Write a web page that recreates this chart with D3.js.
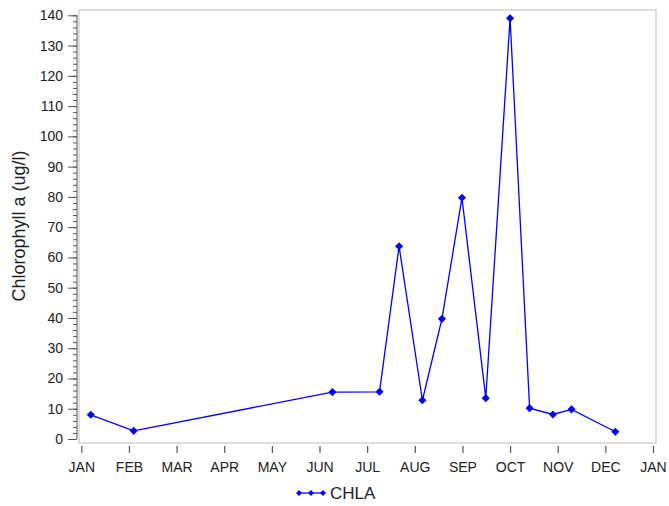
<!DOCTYPE html>
<html>
<head>
<meta charset="utf-8">
<script src="https://cdn.jsdelivr.net/npm/d3@7"></script>
<style>
  html, body { margin: 0; padding: 0; background: #fff; }
  svg { display: block; font-family: "Liberation Sans", Arial, sans-serif; }
</style>
</head>
<body>
<svg id="chart" width="669" height="506"></svg>
<script>
// Sampling dates as fractional months since January (0 = start of JAN)
const sampleMonth = [0.2, 1.1, 5.27, 6.26, 6.67, 7.16, 7.57, 7.99, 8.49, 9.0, 9.41, 9.9, 10.29, 11.21];
// Chlorophyll a concentration (ug/l)
const chla = [8.0, 2.7, 15.5, 15.6, 63.7, 12.8, 39.7, 79.7, 13.5, 139.0, 10.2, 8.1, 9.8, 2.4];
// Month tick labels
const monthLabels = ["JAN", "FEB", "MAR", "APR", "MAY", "JUN", "JUL", "AUG", "SEP", "OCT", "NOV", "DEC", "JAN"];
const yTicks = [0, 10, 20, 30, 40, 50, 60, 70, 80, 90, 100, 110, 120, 130, 140];
const seriesName = "CHLA";

const svg = d3.select("#chart");
const blue = "#0000ff";
const textColor = "#222";

const frame = { left: 79, right: 656, top: 10, bottom: 443 };

const x = d3.scaleLinear().domain([0, 12]).range([81.3, 653]);
const y = d3.scaleLinear().domain([0, 140]).range([439, 15.3]);

// Plot frame
svg.append("rect")
  .attr("x", frame.left).attr("y", frame.top)
  .attr("width", frame.right - frame.left).attr("height", frame.bottom - frame.top)
  .attr("fill", "none").attr("stroke", "#c8c8c8").attr("stroke-width", 1.2);

// Y axis: minor ticks every 2 units, major ticks every 10
const yMinor = svg.append("g").attr("transform", "translate(77,0)");
yMinor.call(d3.axisLeft(y).tickValues(d3.range(0, 141, 2)).tickSize(4).tickFormat(""));
yMinor.select(".domain").remove();
const yMajor = svg.append("g").attr("transform", "translate(77,0)");
yMajor.call(d3.axisLeft(y).tickValues(yTicks).tickSize(9).tickPadding(5).tickFormat(d3.format("d")));
yMajor.select(".domain").attr("d", `M0,${y(0)}V${y(140)}`);
[yMinor, yMajor].forEach(g => {
  g.selectAll("line").attr("stroke", "#555").attr("stroke-width", 1);
  g.selectAll(".domain").attr("stroke", "#555").attr("stroke-width", 1);
});
yMajor.selectAll("text").attr("font-size", 14).attr("fill", textColor)
  .attr("font-family", "Liberation Sans, Arial, sans-serif");

// X axis: month ticks below the frame
const xAxisG = svg.append("g").attr("transform", "translate(0,446)");
xAxisG.call(d3.axisBottom(x).tickValues(d3.range(0, 13)).tickSize(7).tickPadding(9)
  .tickFormat(i => monthLabels[i]));
xAxisG.select(".domain").remove();
xAxisG.selectAll("line").attr("stroke", "#555").attr("stroke-width", 1.2);
xAxisG.selectAll("text").attr("font-size", 14).attr("fill", textColor)
  .attr("font-family", "Liberation Sans, Arial, sans-serif");

// Y axis title
svg.append("text")
  .attr("transform", `translate(25,226) rotate(-90)`)
  .attr("text-anchor", "middle")
  .attr("font-size", 18).attr("fill", textColor)
  .text("Chlorophyll a (ug/l)");

// Series line and diamond markers
const pts = sampleMonth.map((m, i) => ({ m, v: chla[i] }));
const line = d3.line().x(d => x(d.m)).y(d => y(d.v));
svg.append("path").datum(pts)
  .attr("d", line).attr("fill", "none")
  .attr("stroke", blue).attr("stroke-width", 1.3);

const diamond = d3.symbol().type(d3.symbolDiamond2).size(42);
svg.append("g").selectAll("path").data(pts).join("path")
  .attr("d", diamond)
  .attr("transform", d => `translate(${x(d.m)},${y(d.v)})`)
  .attr("fill", blue);

// Legend
const lg = svg.append("g").attr("transform", "translate(298,493)");
lg.append("line").attr("x1", 0).attr("x2", 26).attr("y1", 0).attr("y2", 0)
  .attr("stroke", blue).attr("stroke-width", 1.3);
lg.selectAll("path").data([1, 13, 25]).join("path")
  .attr("d", d3.symbol().type(d3.symbolDiamond2).size(22))
  .attr("transform", d => `translate(${d},0)`)
  .attr("fill", blue);
lg.append("text").attr("x", 32).attr("y", 6.3)
  .attr("font-size", 17).attr("fill", textColor).text(seriesName);
</script>
</body>
</html>
